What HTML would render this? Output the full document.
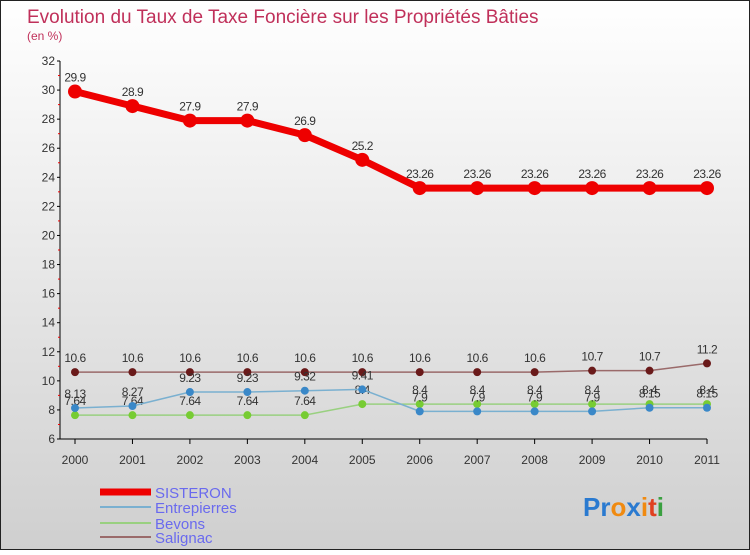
<!DOCTYPE html>
<html><head><meta charset="utf-8"><style>
html,body{margin:0;padding:0}
body{width:750px;height:550px;overflow:hidden;font-family:"Liberation Sans",sans-serif}
</style></head><body>
<svg id="chart" width="750" height="550" xmlns="http://www.w3.org/2000/svg">
<defs><linearGradient id="bg" x1="0" y1="0" x2="0" y2="1"><stop offset="0" stop-color="#ffffff"/><stop offset="1" stop-color="#cfcfcf"/></linearGradient></defs>
<rect x="0.5" y="0.5" width="749" height="549" fill="url(#bg)" stroke="#222"/>
<text x="27" y="23" font-size="19" fill="#c0305a">Evolution du Taux de Taxe Foncière sur les Propriétés Bâties</text>
<text x="27" y="40" font-size="12" fill="#c0305a">(en %)</text>
<g id="axes"></g><g id="series"></g>
<g>
<line x1="100" y1="492" x2="151" y2="492" stroke="#ee0000" stroke-width="7"/>
<text x="155" y="498" font-size="15" fill="#6a6aee">SISTERON</text>
<line x1="100" y1="507" x2="151" y2="507" stroke="#7ab0d0" stroke-width="2"/>
<text x="155" y="513" font-size="15" fill="#6a6aee">Entrepierres</text>
<line x1="100" y1="523" x2="151" y2="523" stroke="#99d080" stroke-width="2"/>
<text x="155" y="529" font-size="15" fill="#6a6aee">Bevons</text>
<line x1="100" y1="537" x2="151" y2="537" stroke="#9a6a6a" stroke-width="2"/>
<text x="155" y="543" font-size="15" fill="#6a6aee">Salignac</text>
</g>
<text x="583" y="516" font-size="26" font-weight="bold"><tspan fill="#2a7ad0">Pr</tspan><tspan fill="#f08a10">o</tspan><tspan fill="#2a7ad0">x</tspan><tspan fill="#f08a10">i</tspan><tspan fill="#e04020">t</tspan><tspan fill="#3aa040">i</tspan></text>
</svg>
<script>
const years=[2000,2001,2002,2003,2004,2005,2006,2007,2008,2009,2010,2011];
const yTicks=[6,8,10,12,14,16,18,20,22,24,26,28,30,32];
const sisteron=[29.9,28.9,27.9,27.9,26.9,25.2,23.26,23.26,23.26,23.26,23.26,23.26];
const entrepierres=[8.13,8.27,9.23,9.23,9.32,9.41,7.9,7.9,7.9,7.9,8.15,8.15];
const bevons=[7.64,7.64,7.64,7.64,7.64,8.4,8.4,8.4,8.4,8.4,8.4,8.4];
const salignac=[10.6,10.6,10.6,10.6,10.6,10.6,10.6,10.6,10.6,10.7,10.7,11.2];
const NS="http://www.w3.org/2000/svg";
const xS=i=>75+i*(707-75)/(years.length-1);
const yS=v=>439-(v-6)*(439-61)/26;
function mk(tag,attrs,parent,txt){const e=document.createElementNS(NS,tag);for(const k in attrs)e.setAttribute(k,attrs[k]);if(txt!==undefined)e.textContent=txt;parent.appendChild(e);return e;}
const axes=document.getElementById('axes');
let e=mk('line',{x1:60,y1:61,x2:60,y2:439,stroke:'#000'},axes);


e=mk('line',{x1:60,y1:439,x2:707,y2:439,stroke:'#000'},axes);


yTicks.forEach(t=>{
 mk('line',{x1:57,y1:yS(t),x2:60,y2:yS(t),stroke:'#000'},axes);
 if(t<32) mk('line',{x1:58,y1:yS(t+1),x2:60,y2:yS(t+1),stroke:'#e00'},axes);
 const l=mk('text',{x:55,y:yS(t)+4,'font-size':12,'text-anchor':'end',fill:'#333'},axes,t);
 
 
});
years.forEach((y,i)=>{
 mk('line',{x1:xS(i),y1:439,x2:xS(i),y2:444,stroke:'#000'},axes);
 const l=mk('text',{x:xS(i),y:464,'font-size':12,'text-anchor':'middle',fill:'#333'},axes,y);
 
 
});
const sg=document.getElementById('series');
function series(vals,name,color,dot,w,r,labelColor){
 const g=mk('g',{},sg);
 
 
 mk('polyline',{points:vals.map((v,i)=>xS(i)+','+yS(v)).join(' '),fill:'none',stroke:color,'stroke-width':w,'stroke-linejoin':'round'},g);
 vals.forEach((v,i)=>{
  const c=mk('circle',{cx:xS(i),cy:yS(v),r:r,fill:dot},g);
  
  
  const t=mk('text',{x:xS(i),y:yS(v)-10,'font-size':12,'text-anchor':'middle',fill:'#333','letter-spacing':'-0.5'},g,v);
  
  
 });
}
series(salignac,'salignac','#9a6a6a','#6a1a1a',1.5,4);
series(bevons,'bevons','#99d080','#77cc33',1.5,4);
series(entrepierres,'entrepierres','#7ab0d0','#3a88c8',1.5,4);
series(sisteron,'sisteron','#ee0000','#ee0000',7,7);
</script>
</body></html>
